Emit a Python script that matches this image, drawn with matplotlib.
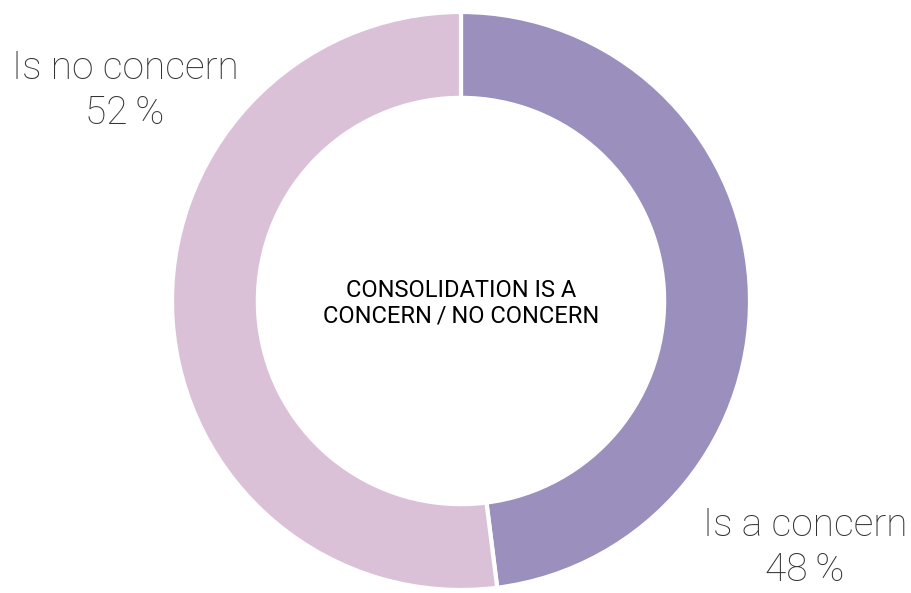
import matplotlib.pyplot as plt

# share of respondents
labels = ["Is a concern", "Is no concern"]
shares = [48, 52]
colors = ["#9b8fbd", "#dbc1d7"]
title = "CONSOLIDATION IS A\nCONCERN\u2009/\u2009NO CONCERN"

plt.rcParams['font.family'] = ['Roboto', 'DejaVu Sans']

fig = plt.figure(figsize=(9.11, 5.93), dpi=100)
ax = fig.add_axes([0, 0, 1, 1])

cx, cy, r = 461, 292, 289
ax.pie(shares, colors=colors, startangle=90, counterclock=False,
       center=(cx, cy), radius=r, frame=True,
       wedgeprops=dict(width=r * 0.297, edgecolor='white', linewidth=3))
ax.set_xlim(0, 911)
ax.set_ylim(0, 593)
ax.set_aspect('equal')
ax.axis('off')

ax.text(cx, cy - 2, title, ha='center', va='center', fontsize=17,
        color='black', linespacing=1.15)

# outside labels
lab = dict(ha='center', va='center', fontsize=28, fontweight='light',
           color='#333333')
ax.text(125, 593 - 68, labels[1], **lab)
ax.text(125, 593 - 113, f"{shares[1]}\u2009%", **lab)
ax.text(805, 593 - 525, labels[0], **lab)
ax.text(805, 593 - 570, f"{shares[0]}\u2009%", **lab)

fig.savefig('out.png', dpi=100)
